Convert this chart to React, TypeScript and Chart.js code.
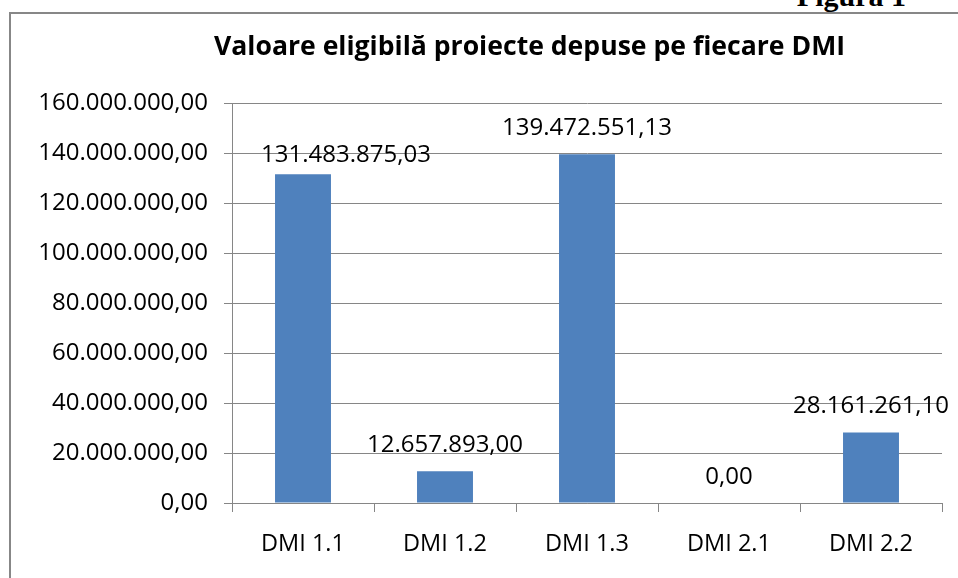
import React, { useEffect, useRef } from "react";
import { Chart, registerables } from "chart.js";

Chart.register(...registerables);

// ---- data ----
const categories: string[] = ["DMI 1.1", "DMI 1.2", "DMI 1.3", "DMI 2.1", "DMI 2.2"];
const values: number[] = [131483875.03, 12657893.0, 139472551.13, 0, 28161261.1];
const yTickValues: number[] = [0, 20000000, 40000000, 60000000, 80000000, 100000000, 120000000, 140000000, 160000000];
const chartTitle = "Valoare eligibilă proiecte depuse pe fiecare DMI";
const figureLabel = "Figura 1";

// ---- styles ----
const FONT = "'Open Sans', sans-serif";
const BAR_COLOR = "#4F81BD";
const LINE_COLOR = "#868686";
const labelNudgeX = [43, 0, 0, 0, 0];
const labelNudgeY = [7, 0, 0, 0, 0];

function fmt(v: number): string {
  const fixed = Math.abs(v).toFixed(2);
  const [intPart, dec] = fixed.split(".");
  const grouped = intPart.replace(/\B(?=(\d{3})+(?!\d))/g, ".");
  return (v < 0 ? "-" : "") + grouped + "," + dec;
}

const valueLabels = {
  id: "valueLabels",
  afterDatasetsDraw(chart: any) {
    const meta = chart.getDatasetMeta(0);
    const ctx = chart.ctx;
    ctx.save();
    ctx.font = `24px ${FONT}`;
    ctx.fillStyle = "#000";
    ctx.textAlign = "center";
    ctx.textBaseline = "middle";
    meta.data.forEach((bar: any, i: number) => {
      ctx.fillText(fmt(values[i]), bar.x + labelNudgeX[i], bar.y - 26 + labelNudgeY[i]);
    });
    ctx.restore();
  },
};

export default function App() {
  const canvasRef = useRef<HTMLCanvasElement | null>(null);

  useEffect(() => {
    if (!canvasRef.current) return;
    const chart = new Chart(canvasRef.current, {
      type: "bar",
      data: {
        labels: categories,
        datasets: [
          {
            data: values,
            backgroundColor: BAR_COLOR,
            borderWidth: 0,
            categoryPercentage: 1,
            barPercentage: 0.394,
          },
        ],
      },
      options: {
        animation: false,
        responsive: false,
        devicePixelRatio: 1,
        layout: { padding: { top: 103, right: 16, left: 0, bottom: 0 } },
        plugins: {
          legend: { display: false },
          title: { display: false },
          tooltip: { enabled: false },
        },
        scales: {
          x: {
            grid: {
              display: true,
              drawOnChartArea: false,
              drawTicks: true,
              tickLength: 9,
              color: LINE_COLOR,
              offset: true,
            },
            border: { color: LINE_COLOR, width: 1 },
            ticks: {
              font: { family: FONT, size: 23.5 },
              color: "#000",
              padding: 18,
              maxRotation: 0,
              autoSkip: false,
            },
            afterFit: (s: any) => {
              s.height = 75;
            },
          },
          y: {
            min: 0,
            max: 160000000,
            afterBuildTicks: (s: any) => {
              s.ticks = yTickValues.map((v) => ({ value: v }));
            },
            grid: { color: LINE_COLOR, lineWidth: 1, tickLength: 8, drawTicks: true },
            border: { color: LINE_COLOR, width: 1 },
            ticks: {
              font: { family: FONT, size: 24 },
              color: "#000",
              padding: 16,
              callback: (v: any) => fmt(Number(v)),
            },
            afterFit: (s: any) => {
              s.width = 232;
            },
          },
        },
      },
      plugins: [valueLabels],
    });
    return () => chart.destroy();
  }, []);

  return (
    <div
      style={{
        position: "absolute",
        left: 0,
        top: 0,
        width: 958,
        height: 578,
        overflow: "hidden",
        background: "#fff",
      }}
    >
      <div
        style={{
          position: "absolute",
          left: 9,
          top: 12,
          width: 2000,
          height: 2000,
          borderLeft: "2px solid #878787",
          borderTop: "2px solid #878787",
        }}
      />
      <div
        style={{
          position: "absolute",
          right: 52,
          top: -19,
          fontFamily: "'Liberation Serif', serif",
          fontWeight: "bold",
          fontSize: 30,
          lineHeight: "30px",
          whiteSpace: "nowrap",
          color: "#000",
        }}
      >
        {figureLabel}
      </div>
      <canvas
        ref={canvasRef}
        width={958}
        height={578}
        style={{ position: "absolute", left: 0, top: 0, width: 958, height: 578 }}
      />
      <div
        style={{
          position: "absolute",
          left: 529.5,
          top: 29.5,
          transform: "translateX(-50%)",
          fontFamily: FONT,
          fontWeight: "bold",
          fontSize: 26.6,
          lineHeight: "30px",
          whiteSpace: "nowrap",
          color: "#000",
        }}
      >
        {chartTitle}
      </div>
    </div>
  );
}
